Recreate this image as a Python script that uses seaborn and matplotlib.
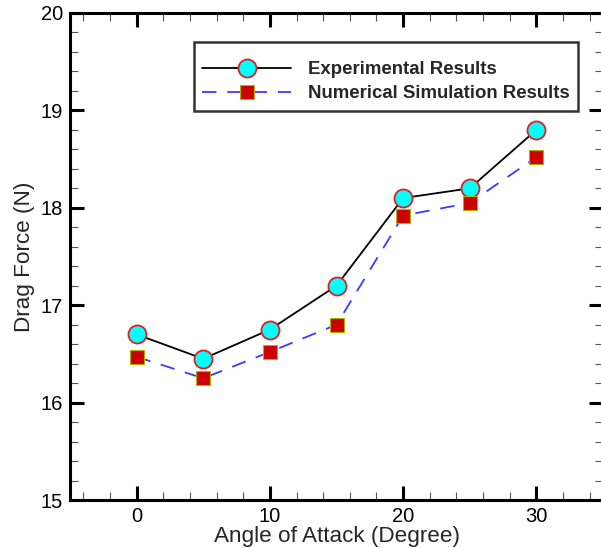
import matplotlib
matplotlib.use("Agg")
import matplotlib.pyplot as plt
import seaborn as sns
import pandas as pd
from matplotlib.ticker import MultipleLocator

angles = [0, 5, 10, 15, 20, 25, 30]
experimental = [16.70, 16.45, 16.75, 17.20, 18.10, 18.20, 18.80]
numerical = [16.47, 16.25, 16.52, 16.80, 17.92, 18.05, 18.52]

sns.set_style("ticks")
plt.rcParams['font.family'] = ['Liberation Sans', 'DejaVu Sans']

fig = plt.figure(figsize=(6.01, 5.48), dpi=100)
ax = fig.add_axes([70/601, 1-500/548, 533/601, 487/548])

df_e = pd.DataFrame({"angle": angles, "drag": experimental})
df_n = pd.DataFrame({"angle": angles, "drag": numerical})

sns.lineplot(data=df_e, x="angle", y="drag", ax=ax, color="black", lw=1.3,
             marker="o", markersize=13, markerfacecolor="#00ffff",
             markeredgecolor="#e02020", markeredgewidth=1.3,
             label="Experimental Results")
sns.lineplot(data=df_n, x="angle", y="drag", ax=ax, color="#3a3aff", lw=1.3,
             dashes=False, linestyle=(0, (8, 6)),
             marker="s", markersize=10, markerfacecolor="#cc0000",
             markeredgecolor="#b0b000", markeredgewidth=0.8,
             label="Numerical Simulation Results")

ax.set_xlim(-5, 35)
ax.set_ylim(15, 20)
ax.xaxis.set_major_locator(MultipleLocator(10))
ax.xaxis.set_minor_locator(MultipleLocator(2))
ax.yaxis.set_major_locator(MultipleLocator(1))
ax.yaxis.set_minor_locator(MultipleLocator(0.2))
ax.tick_params(which="both", direction="in", top=True, right=True,
               labelsize=14.5, colors="black")
ax.tick_params(which="major", length=10, width=2.2, pad=5)
ax.tick_params(which="minor", length=6, width=0.8, color="#555555")
for s in ax.spines.values():
    s.set_linewidth(2.2)
    s.set_color("black")

ax.set_xlabel("Angle of Attack (Degree)", fontsize=16.2, labelpad=0)
ax.set_ylabel("Drag Force (N)", fontsize=16.2, labelpad=4)

leg = ax.legend(loc="upper left", bbox_to_anchor=(124/533, 1-29/487),
                frameon=True, fancybox=False, edgecolor="black",
                prop={"weight": "bold", "size": 13.4}, handlelength=4.75,
                handletextpad=0.9, borderpad=0.45, labelspacing=0.37,
                borderaxespad=0, title=" ", title_fontsize=3)
leg.get_frame().set_linewidth(1.8)

fig.savefig("out.png", dpi=100)
